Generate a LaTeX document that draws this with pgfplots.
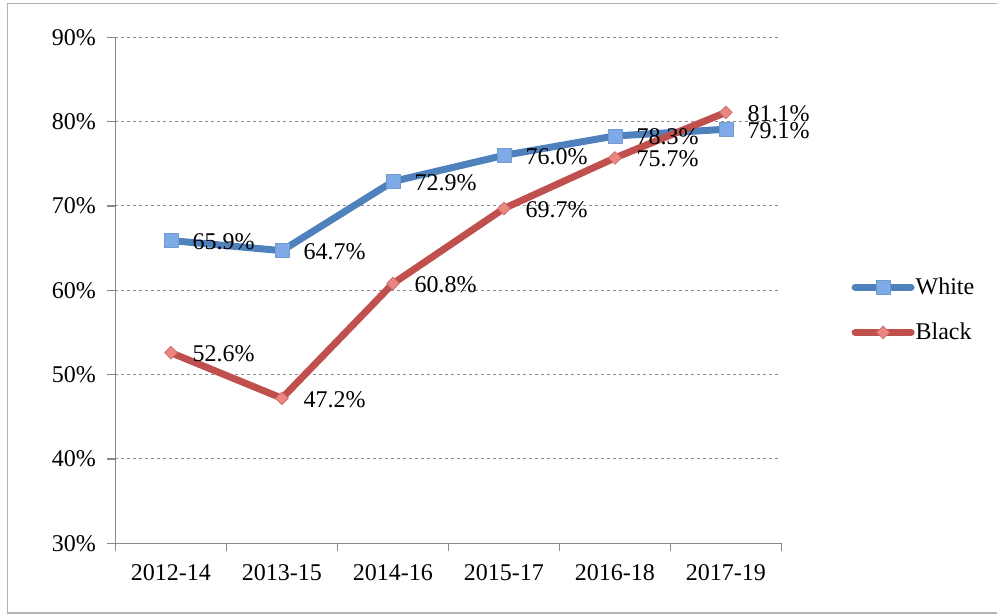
\documentclass[border=0pt]{standalone}
\usepackage{fontspec}
\setmainfont{Liberation Serif}
\usepackage{pgfplots}
\pgfplotsset{compat=1.18}
\definecolor{wblue}{HTML}{4F81BD}
\definecolor{wbluefill}{HTML}{7EAAE8}
\definecolor{bred}{HTML}{C0504D}
\definecolor{bredfill}{HTML}{EC8683}
\definecolor{gridgray}{HTML}{8C8C8C}
\definecolor{axgray}{HTML}{888888}
\begin{document}
\begin{tikzpicture}[x=1pt,y=1pt]
\begin{axis}[
  at={(104,85)}, anchor=south west,
  scale only axis, width=666pt, height=506pt,
  /pgf/number format/assume math mode=true,
  xmin=-0.5, xmax=5.5, ymin=30, ymax=90,
  ytick={30,40,...,90},
  yticklabel={\pgfmathprintnumber{\tick}\%},
  xtick={0,...,5},
  xticklabels={2012-14,2013-15,2014-16,2015-17,2016-18,2017-19},
  minor xtick={-0.5,0.5,...,5.5},
  axis lines*=left,
  axis line style={axgray, line width=1.6pt},
  tick align=outside,
  major tick length=8pt, minor tick length=8pt,
  every tick/.style={axgray, line width=1.6pt},
  major x tick style={draw=none},
  ymajorgrids,
  major grid style={dashed, gridgray, line width=1pt},
  tick label style={font=\fontsize{24}{28}\selectfont},
  xticklabel style={yshift=-10pt},
  yticklabel style={xshift=-8pt},
  nodes near coords={\pgfmathprintnumber[fixed,fixed zerofill,precision=1]{\pgfplotspointmeta}\%},
  every node near coord/.style={anchor=west, xshift=18pt, yshift=-1pt, text=black, font=\fontsize{24}{28}\selectfont},
  legend style={at={(1,0.4615)}, anchor=west, xshift=70pt, draw=none, fill=none,
    font=\fontsize{24}{28}\selectfont, row sep=23pt, inner sep=0pt,
    nodes={inner xsep=1pt}},
  legend cell align=left,
  legend image code/.code={\draw[mark repeat=2,mark phase=2,#1] plot coordinates {(0pt,0pt) (28pt,0pt) (56pt,0pt)};},
]
\addplot[wblue, line width=7pt, line cap=round, line join=round, mark=square*, mark size=7pt,
  mark options={fill=wbluefill, draw=wblue!80!white, line width=0.8pt}]
  coordinates {(0,65.9) (1,64.7) (2,72.9) (3,76.0) (4,78.3) (5,79.1)};
\addlegendentry{White}
\addplot[bred, line width=7pt, line cap=round, line join=round, mark=square*, mark size=4.5pt,
  mark options={rotate=45, fill=bredfill, draw=bred!80!white, line width=0.8pt}]
  coordinates {(0,52.6) (1,47.2) (2,60.8) (3,69.7) (4,75.7) (5,81.1)};
\addlegendentry{Black}
\end{axis}
\draw[gray!60, line width=1.5pt] (999,611.5) -- (7.5,611.5) -- (7.5,2) -- (999,2);
\pgfresetboundingbox
\useasboundingbox (0,0) rectangle (997,615);
\end{tikzpicture}
\end{document}
